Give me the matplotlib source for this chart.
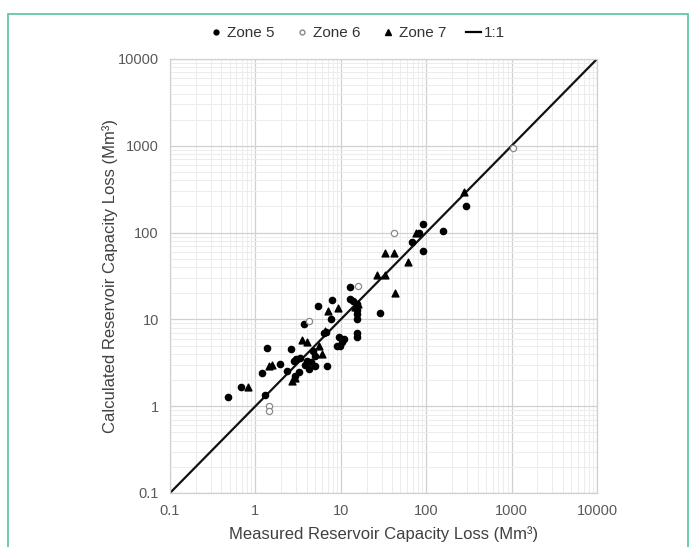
import matplotlib
matplotlib.use("Agg")
import matplotlib.pyplot as plt
from matplotlib.patches import Rectangle
from matplotlib.lines import Line2D
from matplotlib.ticker import LogLocator, FixedLocator, NullFormatter

plt.rcParams['font.family'] = ['Liberation Sans', 'DejaVu Sans']

# Data (measured, calculated) in Mm3
zone5_x = [0.48, 0.68, 1.28, 1.36, 1.2, 1.94, 2.36, 2.63, 2.8, 2.9, 3.0, 3.3, 3.2, 3.68,
           3.8, 4.0, 4.2, 4.5, 4.7, 5.0, 5.35, 5.0, 6.9, 6.3, 6.8, 7.85, 7.7, 9.0, 9.5,
           10.2, 11.0, 9.8, 12.9, 12.9, 14.0, 15.5, 15.5, 15.5, 15.5, 15.5, 15.5, 29.0,
           68.0, 82.0, 92.0, 91.0, 156.0, 295.0]
zone5_y = [1.27, 1.68, 1.33, 4.7, 2.43, 3.1, 2.55, 4.6, 3.36, 2.2, 3.5, 3.6, 2.5, 8.9,
           3.0, 3.3, 2.7, 3.2, 4.3, 3.8, 14.1, 2.9, 2.9, 7.0, 7.2, 16.6, 10.0, 5.0, 6.2,
           5.5, 6.0, 5.0, 23.5, 17.0, 16.5, 15.0, 13.0, 11.5, 10.0, 7.0, 6.2, 11.7,
           78.0, 100.0, 126.0, 61.0, 105.0, 200.0]

zone6_x = [1.44, 1.44, 4.25, 16.0, 41.7, 1050.0]
zone6_y = [1.0, 0.88, 9.7, 24.0, 100.0, 946.0]

zone7_x = [0.82, 1.45, 1.55, 2.7, 2.9, 3.5, 4.0, 5.5, 6.0, 7.0, 9.3, 6.5, 14.5, 16.0,
           26.7, 33.0, 32.5, 42.0, 43.0, 62.0, 75.0, 279.0]
zone7_y = [1.68, 2.9, 3.0, 1.93, 2.1, 5.8, 5.5, 5.0, 4.0, 12.5, 13.4, 7.3, 14.0, 15.0,
           32.3, 32.3, 58.0, 58.0, 20.4, 46.0, 100.0, 292.0]

line_vals = [0.1, 10000]
tick_vals = [0.1, 1, 10, 100, 1000, 10000]
tick_labels = ["0.1", "1", "10", "100", "1000", "10000"]

fig = plt.figure(figsize=(6.94, 5.47), dpi=100)
fig.patch.set_facecolor('white')

# green frame
fig.patches.append(Rectangle((8/694, -0.05), 680/694, 1 - 14/547 + 0.05,
                             transform=fig.transFigure, fill=False,
                             edgecolor='#55c49c', linewidth=1.2))

ax = fig.add_axes([170/694, 1 - 493/547, 427/694, 434/547])
ax.set_xscale('log')
ax.set_yscale('log')
ax.set_xlim(0.1, 10000)
ax.set_ylim(0.1, 10000)

ax.xaxis.set_major_locator(FixedLocator(tick_vals))
ax.yaxis.set_major_locator(FixedLocator(tick_vals))
ax.set_xticklabels(tick_labels)
ax.set_yticklabels(tick_labels)
ax.xaxis.set_minor_locator(LogLocator(base=10, subs=range(2, 10), numticks=20))
ax.yaxis.set_minor_locator(LogLocator(base=10, subs=range(2, 10), numticks=20))
ax.xaxis.set_minor_formatter(NullFormatter())
ax.yaxis.set_minor_formatter(NullFormatter())

ax.grid(True, which='major', color='#d0d0d0', linewidth=0.9)
ax.grid(True, which='minor', color='#ececec', linewidth=0.7)
ax.set_axisbelow(True)
ax.tick_params(which='both', length=0, labelsize=10.5, colors='#595959', pad=8)
for s in ax.spines.values():
    s.set_color('#d0d0d0')
    s.set_linewidth(0.9)

ax.plot(line_vals, line_vals, color='#111111', linewidth=1.6, zorder=2)
ax.scatter(zone5_x, zone5_y, marker='o', s=20, color='black', zorder=3)
ax.scatter(zone6_x, zone6_y, marker='o', s=20, facecolor='white', edgecolor='#8a8a8a',
           linewidth=0.9, zorder=3)
ax.scatter(zone7_x, zone7_y, marker='^', s=24, color='black', zorder=3)

ax.set_xlabel("Measured Reservoir Capacity Loss (Mm³)", fontsize=12, color='#404040', labelpad=6)
ax.set_ylabel("Calculated Reservoir Capacity Loss (Mm³)", fontsize=12, color='#404040', labelpad=0)

handles = [
    Line2D([], [], marker='o', linestyle='none', color='black', markersize=3.5),
    Line2D([], [], marker='o', linestyle='none', markerfacecolor='white',
           markeredgecolor='#8a8a8a', markersize=3.5),
    Line2D([], [], marker='^', linestyle='none', color='black', markersize=4),
    Line2D([], [], color='black', linewidth=1.6),
]
fig.legend(handles, ["Zone 5", "Zone 6", "Zone 7", "1:1"], loc='center',
           bbox_to_anchor=(357/694, 1 - 33/547), ncol=4, frameon=False,
           fontsize=11, labelcolor='#333333', handlelength=1.0, handletextpad=0.2,
           columnspacing=1.3)

fig.savefig("out.png", dpi=100)
